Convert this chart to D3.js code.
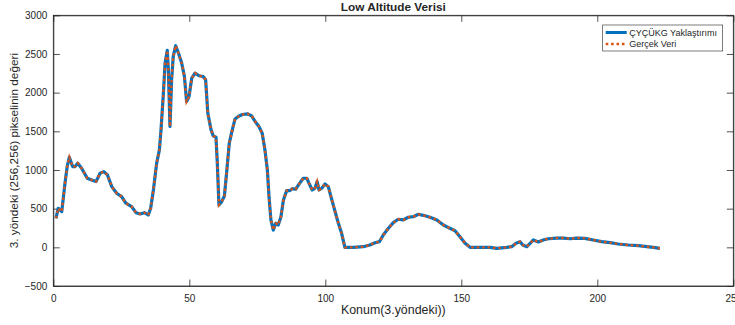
<!DOCTYPE html>
<html>
<head>
<meta charset="utf-8">
<script src="https://cdn.jsdelivr.net/npm/d3@7"></script>
<style>
  body { margin: 0; background: #fff; }
  text { font-family: "Liberation Sans", Arial, Helvetica, sans-serif; fill: #262626; }
</style>
</head>
<body>
<div id="chart"></div>
<script>
// Values
const konum = [1.0, 1.8, 3.1, 4.3, 5.1, 5.9, 7.1, 8.0, 9.0, 10.4, 12.5, 14.1, 15.7, 17.2, 18.6, 19.9,
  21.5, 23.3, 25.1, 26.7, 28.8, 30.4, 31.9, 33.5, 34.9, 35.8, 36.8, 38.0, 39.0, 39.6, 40.4, 41.1,
  41.9, 42.3, 42.9, 43.5, 44.1, 45.0, 46.0, 47.2, 48.2, 49.0, 49.9, 50.9, 52.1, 53.6, 55.1, 56.0,
  56.8, 58.0, 58.8, 59.8, 60.3, 60.9, 61.9, 62.9, 63.7, 64.7, 65.8, 66.8, 68.0, 69.5, 71.5, 72.9,
  74.2, 75.6, 76.8, 77.8, 78.7, 79.3, 80.0, 80.9, 81.8, 82.7, 83.7, 84.6, 85.8, 87.0, 87.9, 89.1,
  90.4, 91.9, 93.2, 94.0, 95.2, 96.2, 97.0, 97.7, 98.7, 99.9, 101.1, 102.4, 103.6, 104.8, 106.0,
  107.2, 110.3, 114.0, 116.4, 118.3, 119.9, 121.3, 123.2, 125.0, 126.8, 128.7, 130.5, 132.4, 134.2,
  136.0, 138.5, 141.0, 143.4, 145.8, 147.7, 149.5, 151.4, 153.2, 156.9, 160.5, 163.0, 166.7, 168.5,
  170.1, 171.6, 172.6, 174.1, 175.3, 176.5, 178.3, 180.1, 182.0, 185.1, 187.5, 190.0, 192.4, 195.4,
  198.5, 201.6, 204.7, 207.7, 211.4, 215.1, 218.2, 220.6, 223.0];
const gercekVeri = [375, 505, 461, 829, 1044, 1165, 1044, 1044, 1088, 1023, 893, 872, 850, 958, 979, 936,
  785, 699, 655, 570, 526, 448, 431, 448, 418, 505, 742, 1088, 1260, 1519, 1950, 2383,
  2546, 2296, 1562, 2167, 2468, 2607, 2512, 2383, 2209, 1886, 1950, 2189, 2253, 2218, 2209, 2167,
  1735, 1519, 1441, 1424, 1088, 548, 591, 664, 958, 1347, 1519, 1658, 1691, 1717, 1726, 1700,
  1627, 1562, 1476, 1260, 1001, 655, 354, 224, 311, 289, 396, 613, 733, 733, 759, 751,
  820, 893, 893, 829, 742, 764, 850, 742, 764, 820, 785, 613, 461, 311, 181,
  0, 0, 8, 30, 60, 73, 159, 246, 319, 363, 354, 389, 396, 427,
  414, 389, 354, 289, 246, 215, 137, 52, 0, 0, 0, -13, 0, 8,
  52, 73, 30, 8, 52, 95, 69, 95, 111, 120, 120, 111, 120, 116,
  95, 73, 60, 43, 30, 21, 8, 0, -13];
// approximation follows the measured data on this plot
const yaklasim = gercekVeri.slice();

const xTicks = [0, 50, 100, 150, 200, 250];
const yTicks = [-500, 0, 500, 1000, 1500, 2000, 2500, 3000];
const seriesNames = ["ÇYÇÜKG Yaklaştırımı", "Gerçek Veri"];

const W = 735, H = 325;
const margin = { top: 15.3, right: 1.7, bottom: 39, left: 53.3 };
const width = W - margin.left - margin.right;
const height = H - margin.top - margin.bottom;

const svg = d3.select("#chart").append("svg")
  .attr("width", W).attr("height", H);

const g = svg.append("g")
  .attr("transform", `translate(${margin.left},${margin.top})`);

const x = d3.scaleLinear().domain([0, 250]).range([0, width]);
const y = d3.scaleLinear().domain([-500, 3000]).range([height, 0]);

const axisColor = "#262626";
const tickLen = 6.5;
const fmt = d3.format("d");

// box
g.append("rect")
  .attr("width", width).attr("height", height)
  .attr("fill", "none").attr("stroke", axisColor).attr("stroke-width", 0.8);

// bottom / left axes with inward ticks
const xAxis = g.append("g").attr("transform", `translate(0,${height})`)
  .call(d3.axisBottom(x).tickValues(xTicks).tickFormat(fmt).tickSizeInner(-tickLen).tickSizeOuter(0).tickPadding(9));
const yAxis = g.append("g")
  .call(d3.axisLeft(y).tickValues(yTicks).tickFormat(fmt).tickSizeInner(-tickLen).tickSizeOuter(0).tickPadding(6));
// mirrored ticks on top / right
const xTop = g.append("g")
  .call(d3.axisTop(x).tickValues(xTicks).tickSizeInner(-tickLen).tickSizeOuter(0).tickFormat(""));
const yRight = g.append("g").attr("transform", `translate(${width},0)`)
  .call(d3.axisRight(y).tickValues(yTicks).tickSizeInner(-tickLen).tickSizeOuter(0).tickFormat(""));

[xAxis, yAxis, xTop, yRight].forEach(a => {
  a.select(".domain").attr("stroke", axisColor).attr("stroke-width", 0.8);
  a.selectAll(".tick line").attr("stroke", axisColor).attr("stroke-width", 0.8);
  a.selectAll(".tick text").attr("font-size", 10).attr("fill", axisColor)
    .attr("font-family", "'Liberation Sans', Arial, sans-serif");
});

// lines
const pts1 = konum.map((k, i) => [k, yaklasim[i]]);
const pts2 = konum.map((k, i) => [k, gercekVeri[i]]);
const line = d3.line().x(d => x(d[0])).y(d => y(d[1]));

g.append("path").datum(pts1)
  .attr("d", line).attr("fill", "none")
  .attr("stroke", "#0072BD").attr("stroke-width", 3.2)
  .attr("stroke-linejoin", "round");
g.append("path").datum(pts2)
  .attr("d", line).attr("fill", "none")
  .attr("stroke", "#D95319").attr("stroke-width", 2.4)
  .attr("stroke-dasharray", "2.6,2.8");

// title and axis labels
svg.append("text")
  .attr("x", margin.left + width / 2).attr("y", 11)
  .attr("text-anchor", "middle").attr("font-size", 11.8).attr("font-weight", "bold")
  .text("Low Altitude Verisi");
svg.append("text")
  .attr("x", margin.left + width / 2).attr("y", 314)
  .attr("text-anchor", "middle").attr("font-size", 12.4)
  .text("Konum(3.yöndeki))");
svg.append("text")
  .attr("transform", `translate(17.5,${margin.top + height / 2}) rotate(-90)`)
  .attr("text-anchor", "middle").attr("font-size", 11.8)
  .text("3. yöndeki (256,256) pikselinin değeri");

// legend
const lg = svg.append("g").attr("transform", "translate(602.7,25)");
lg.append("rect").attr("width", 120).attr("height", 26)
  .attr("fill", "#fff").attr("stroke", axisColor).attr("stroke-width", 0.6);
const styles = [
  { stroke: "#0072BD", w: 3, dash: null },
  { stroke: "#D95319", w: 2.4, dash: "2.6,2.8" }
];
seriesNames.forEach((name, i) => {
  const yy = 7.5 + i * 11.5;
  lg.append("line").attr("x1", 3).attr("x2", 24).attr("y1", yy).attr("y2", yy)
    .attr("stroke", styles[i].stroke).attr("stroke-width", styles[i].w)
    .attr("stroke-dasharray", styles[i].dash);
  lg.append("text").attr("x", 26.5).attr("y", yy + 3.3)
    .attr("font-size", 9).text(name);
});
</script>
</body>
</html>
